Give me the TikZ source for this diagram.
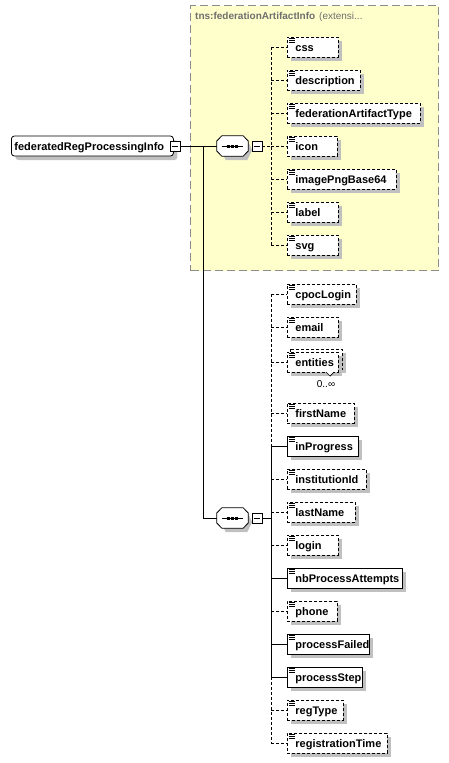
\documentclass[tikz,border=0pt]{standalone}
\usepackage{fontspec}
\setmainfont{Liberation Sans}
\usetikzlibrary{shadows}
\definecolor{shadowgray}{RGB}{192,192,192}
\definecolor{boxyellow}{RGB}{255,255,204}
\definecolor{boxborder}{RGB}{140,140,140}
\definecolor{titlegray}{RGB}{110,110,110}
\tikzset{
  elembase/.style={rectangle, fill=white, draw=black, line width=0.8pt, inner sep=0pt,
    minimum height=20pt, text height=9pt, text depth=0pt, anchor=west, align=left,
    font=\fontsize{11}{12}\selectfont\bfseries,
    general shadow={fill=shadowgray, shadow xshift=4pt, shadow yshift=-4pt}},
  optelem/.style={elembase, dash pattern=on 3pt off 2pt},
  reqelem/.style={elembase, solid},
  optline/.style={draw=black, line width=0.8pt, dash pattern=on 3pt off 2pt},
  reqline/.style={draw=black, line width=0.8pt},
  iconline/.style={draw=black, line width=0.7pt, solid},
  minusbox/.style={rectangle, draw=black, fill=white, line width=0.7pt, minimum size=10pt, inner sep=0pt},
  seqbox/.style={rectangle, minimum width=31pt, minimum height=20pt, inner sep=0pt},
  seqshape/.style={draw=black, fill=white, line width=0.8pt},
  seqshadow/.style={fill=shadowgray},
  extbox/.style={rectangle, fill=boxyellow, draw=boxborder, line width=1pt, dash pattern=on 8pt off 4pt, inner sep=0pt},
  rootbox/.style={rectangle, rounded corners=3pt, fill=white, draw=black, line width=0.8pt, inner sep=0pt,
    minimum height=20pt, text height=8.5pt, text depth=0pt, anchor=west, align=left,
    font=\fontsize{11}{12}\selectfont\bfseries,
    general shadow={fill=shadowgray, shadow xshift=4pt, shadow yshift=-4pt}},
}
\newcommand\elm[5]{%
  \node[#5, text width=#3pt] (#1) at (287,#2) {\hspace*{8pt}#4};
  \draw[iconline] ([xshift=2pt,yshift=-2pt]#1.north west) -- ++(6pt,0pt);
  \draw[iconline] ([xshift=2pt,yshift=-4pt]#1.north west) -- ++(6pt,0pt);
  \draw[iconline] ([xshift=2pt,yshift=-6pt]#1.north west) -- ++(6pt,0pt);
}
\newcommand\minusmark[1]{%
  \draw[line width=0.8pt] ([xshift=2pt]#1.west) -- ([xshift=-2pt]#1.east);
}
\newcommand\seqdraw[1]{%
  \fill[seqshadow] ([shift={(4pt,-4pt)}]#1.west) -- ([shift={(9pt,-4pt)}]#1.north west) -- ([shift={(-1pt,-4pt)}]#1.north east)
     -- ([shift={(4pt,-4pt)}]#1.east) -- ([shift={(-1pt,-4pt)}]#1.south east) -- ([shift={(9pt,-4pt)}]#1.south west) -- cycle;
  \draw[seqshape] ([yshift=5pt]#1.west) -- ([xshift=5pt]#1.north west) -- ([xshift=-5pt]#1.north east)
     -- ([yshift=5pt]#1.east) -- ([yshift=-5pt]#1.east) -- ([xshift=-5pt]#1.south east)
     -- ([xshift=5pt]#1.south west) -- ([yshift=-5pt]#1.west) -- cycle;
  \draw[line width=0.8pt] ([xshift=5pt]#1.west) -- ([xshift=-5pt]#1.east);
  \fill ([xshift=-5.5pt,yshift=-1.5pt]#1.center) rectangle ++(3pt,3pt);
  \fill ([xshift=-1.5pt,yshift=-1.5pt]#1.center) rectangle ++(3pt,3pt);
  \fill ([xshift=2.5pt,yshift=-1.5pt]#1.center) rectangle ++(3pt,3pt);
}
\begin{document}
\begin{tikzpicture}[x=1pt,y=-1pt]
\useasboundingbox (0,0) rectangle (449,763);
% extension box
\node[extbox, minimum width=248pt, minimum height=265pt, anchor=north west] (ext) at (190,5) {};
\node[anchor=west, inner sep=0pt, text=titlegray, font=\fontsize{10}{12}\selectfont] (exttitle) at (195,17)
  {\textbf{tns:federationArtifactInfo}\hspace{4pt}(extensi...};

% root
\node[rootbox, text width=162pt] (root) at (11,146) {\hspace*{3pt}federatedRegProcessingInfo};
\node[minusbox] (rootminus) at (175,146) {};
\minusmark{rootminus}

% sequences
\node[seqbox] (seq1) at (232.5,146) {};
\node[seqbox] (seq2) at (232.5,518) {};
\coordinate (br) at (203,146);
\draw[reqline] (rootminus.east) -- (seq1.west);
\draw[reqline] (br) |- (seq2.west);
\seqdraw{seq1}
\seqdraw{seq2}
\node[minusbox] (m1) at (257,146) {};
\minusmark{m1}
\node[minusbox] (m2) at (257,518) {};
\minusmark{m2}

% spine coordinates
\coordinate (s1a) at (271,47);
\coordinate (s1b) at (271,245);
\coordinate (s1m) at (271,146);
\coordinate (s2a) at (271,294);
\coordinate (s2r1) at (271,446);
\coordinate (s2r2) at (271,677);
\coordinate (s2b) at (271,743);
\coordinate (s2m) at (271,518);

\draw[optline] (m1.east) -- (s1m);
\draw[optline] (s1a) -- (s1b);
\draw[reqline] (m2.east) -- (s2m);
\draw[optline] (s2a) -- (s2r1);
\draw[reqline] (s2r1) -- (s2r2);
\draw[optline] (s2r2) -- (s2b);

% group 1 elements
\elm{css}{47}{51}{css}{optelem}
\elm{description}{80}{73}{description}{optelem}
\elm{fat}{113}{133}{federationArtifactType}{optelem}
\elm{icon}{146}{50}{icon}{optelem}
\elm{ipng}{179}{109}{imagePngBase64}{optelem}
\elm{label}{212}{51}{label}{optelem}
\elm{svg}{245}{51}{svg}{optelem}
\foreach \n in {css,description,fat,icon,ipng,label,svg}{
  \draw[optline] (s1a |- \n.west) -- (\n.west);
}

% group 2 elements
\elm{cpoc}{294}{69}{cpocLogin}{optelem}
\elm{email}{327}{51}{email}{optelem}
% entities (multiple)
\fill[shadowgray] (294,353) rectangle (346,373);
\draw[optline, fill=white] (290,349) rectangle (342,369);
\elm{entities}{362}{51}{entities}{optelem}
\draw[line width=0.7pt, fill=white] (326,372) -- (330,376) -- (334,372);
\node[inner sep=0pt, font=\fontsize{10}{12}\selectfont] (mult) at (326,384) {0..∞};
\elm{first}{413}{67}{firstName}{optelem}
\elm{inprog}{446}{71}{inProgress}{reqelem}
\elm{instid}{479}{79}{institutionId}{optelem}
\elm{last}{512}{68}{lastName}{optelem}
\elm{login}{545}{51}{login}{optelem}
\elm{nbpa}{578}{115}{nbProcessAttempts}{reqelem}
\elm{phone}{611}{50}{phone}{optelem}
\elm{pfail}{644}{82}{processFailed}{reqelem}
\elm{pstep}{677}{75}{processStep}{reqelem}
\elm{regtype}{710}{56}{regType}{optelem}
\elm{regtime}{743}{100}{registrationTime}{optelem}
\foreach \n in {cpoc,email,entities,first,instid,last,login,phone,regtype,regtime}{
  \draw[optline] (s2a |- \n.west) -- (\n.west);
}
\foreach \n in {inprog,nbpa,pfail,pstep}{
  \draw[reqline] (s2a |- \n.west) -- (\n.west);
}
\end{tikzpicture}
\end{document}
